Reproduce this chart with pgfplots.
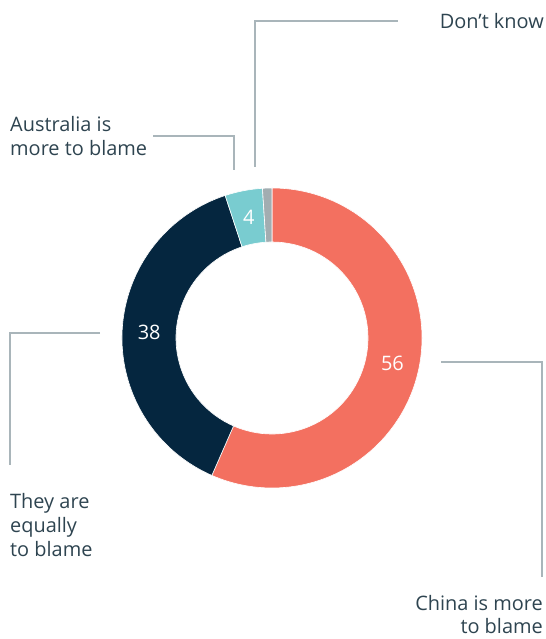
\documentclass[border=0pt]{standalone}
\usepackage{pgfplots}
\pgfplotsset{compat=1.18}
\usepackage{pgfplotstable}
\usepackage{fontspec}
\setmainfont{Open Sans}
\definecolor{cChina}{HTML}{F37060}
\definecolor{cEqual}{HTML}{05263F}
\definecolor{cAus}{HTML}{79CCD0}
\definecolor{cDK}{HTML}{A2ADB1}
\definecolor{txt}{HTML}{2E4450}
\definecolor{lead}{HTML}{A9B5BA}

\pgfplotstableread{
label value
China 56
Equal 38
Australia 4
DontKnow 1
}\donutdata

\newcommand\sector[3]{%
  \fill[#3, draw=white, line width=0.6bp]
    (axis cs:{272+150*cos(#1)},{301+150*sin(#1)})
    arc[start angle=#1, end angle=#2, radius=150bp]
    -- (axis cs:{272+96*cos(#2)},{301+96*sin(#2)})
    arc[start angle=#2, end angle=#1, radius=96bp] -- cycle;}
\newcommand\inlabel[3]{%
  \node[text=white, font=\fontsize{20}{24}\selectfont, inner sep=0pt]
    at (axis cs:{272+123*cos((#1+#2)/2)},{301+123*sin((#1+#2)/2)}) {#3};}

\begin{document}
\begin{tikzpicture}
\pgfplotstablegetelem{0}{value}\of\donutdata \let\vA\pgfplotsretval
\pgfplotstablegetelem{1}{value}\of\donutdata \let\vB\pgfplotsretval
\pgfplotstablegetelem{2}{value}\of\donutdata \let\vC\pgfplotsretval
\pgfplotstablegetelem{3}{value}\of\donutdata \let\vD\pgfplotsretval
\pgfmathsetmacro\tot{\vA+\vB+\vC+\vD}
\pgfmathsetmacro\aA{90}
\pgfmathsetmacro\aB{\aA-360*(\vA/\tot)}
\pgfmathsetmacro\aC{\aB-360*(\vB/\tot)}
\pgfmathsetmacro\aD{\aC-360*(\vC/\tot)}
\pgfmathsetmacro\aE{\aD-360*(\vD/\tot)}
\begin{axis}[
  x=1bp, y=1bp,
  xmin=0, xmax=546, ymin=0, ymax=639,
  hide axis, clip=false,
  scale only axis,
]
\sector{\aA}{\aB}{cChina}
\sector{\aB}{\aC}{cEqual}
\sector{\aC}{\aD}{cAus}
\sector{\aD}{\aE}{cDK}
\inlabel{\aA}{\aB}{56}
\inlabel{\aB}{\aC}{38}
\inlabel{\aC}{\aD}{4}

\draw[lead, line width=1.3bp] (axis cs:255,472) -- (axis cs:255,618) -- (axis cs:398,618);
\draw[lead, line width=1.3bp] (axis cs:234,469) -- (axis cs:234,503) -- (axis cs:153,503);
\draw[lead, line width=1.3bp] (axis cs:100,306) -- (axis cs:10,306) -- (axis cs:10,174);
\draw[lead, line width=1.3bp] (axis cs:441,277) -- (axis cs:542,277) -- (axis cs:542,62);

\begin{scope}[every node/.style={text=txt, font=\fontsize{20}{24}\selectfont, inner sep=0pt}]
\node[anchor=base east] at (axis cs:544,610) {Don’t know};
\node[anchor=base west] at (axis cs:10,507) {Australia is};
\node[anchor=base west] at (axis cs:10,483) {more to blame};
\node[anchor=base west] at (axis cs:10,130) {They are};
\node[anchor=base west] at (axis cs:10,106) {equally};
\node[anchor=base west] at (axis cs:10,82) {to blame};
\node[anchor=base east] at (axis cs:543,28) {China is more};
\node[anchor=base east] at (axis cs:543,5) {to blame};
\end{scope}
\path (axis cs:0,0) rectangle (axis cs:546,639);
\end{axis}
\end{tikzpicture}
\end{document}
